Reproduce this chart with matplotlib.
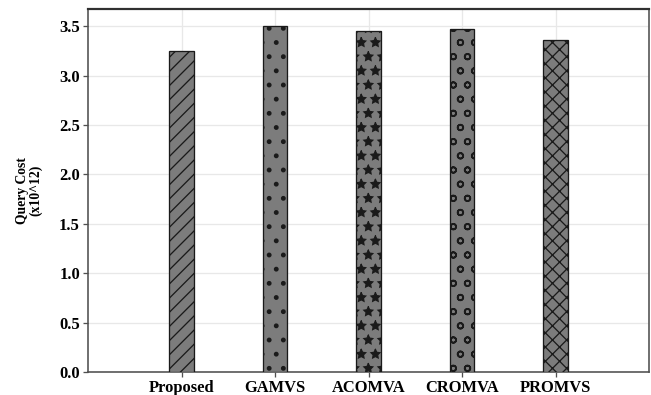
import matplotlib
matplotlib.use("Agg")
import matplotlib.pyplot as plt

methods = ["Proposed", "GAMVS", "ACOMVA", "CROMVA", "PROMVS"]
query_cost = [3.25, 3.50, 3.45, 3.47, 3.36]
hatches = ["//", ".", "*", "o", "xx"]
hatch_px = [1.3, 2.0, 1.2, 1.7, 1.3]   # hatch stroke width in pixels

DPI = 85
W, H = 651, 395


def pt(px):
    """Convert a size in output pixels to points at the figure dpi."""
    return px * 72.0 / DPI


plt.rcParams["font.family"] = ["Liberation Serif", "DejaVu Serif"]
plt.rcParams["font.weight"] = "bold"

fig = plt.figure(figsize=(W / DPI, H / DPI), dpi=DPI)
ax = fig.add_axes([88 / W, 1 - 372 / H, (649 - 88) / W, (372 - 9) / H])

x = list(range(len(methods)))
for xi, val, hatch, hpx in zip(x, query_cost, hatches, hatch_px):
    with plt.rc_context({"hatch.linewidth": pt(hpx), "hatch.color": "black"}):
        bars = ax.bar(xi, val, width=0.26, color="#7c7c7c", edgecolor="#1a1a1a",
                      linewidth=pt(1.3), hatch=hatch, zorder=3)
        for b in bars:
            if hasattr(b, "set_hatch_linewidth"):
                b.set_hatch_linewidth(pt(hpx))

ax.set_xlim(-1, 5)
ax.set_ylim(0, 3.675)
yt = [0.0, 0.5, 1.0, 1.5, 2.0, 2.5, 3.0, 3.5]
ax.set_yticks(yt)
ax.set_yticklabels([f"{v:.1f}" for v in yt], fontsize=pt(16.5), fontweight="bold")
ax.set_xticks(x)
ax.set_xticklabels(methods, fontsize=pt(16.5), fontweight="bold")
ax.set_ylabel("Query Cost\n(x10^12)", fontsize=pt(13.6), fontweight="bold",
              labelpad=pt(17), linespacing=1.0)

ax.grid(True, color="#e8e8e8", linewidth=pt(1.3), zorder=0)
for s in ax.spines.values():
    s.set_color("#505050")
    s.set_linewidth(pt(1.6))
ax.spines["top"].set_color("#303030")
ax.spines["top"].set_linewidth(pt(2.2))
ax.tick_params(direction="out", length=pt(5), width=pt(1.3), color="#505050",
               pad=pt(3))

fig.savefig("out.png", dpi=DPI)
